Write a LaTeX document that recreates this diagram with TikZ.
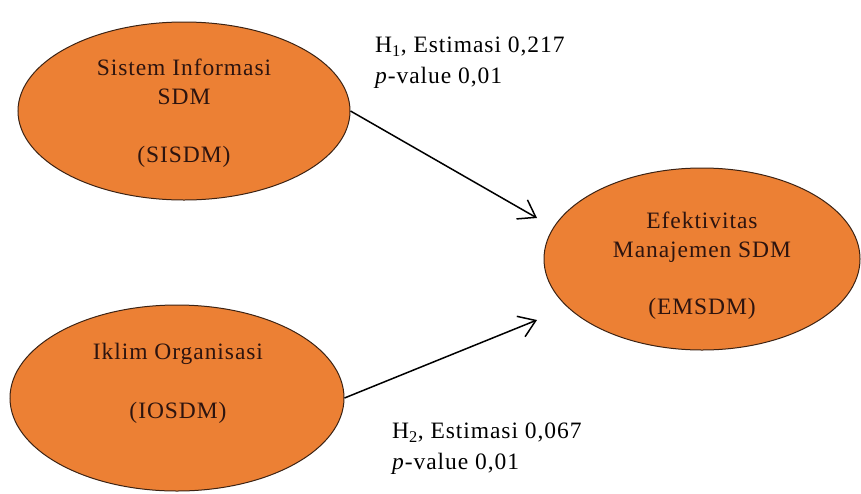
\documentclass[tikz,border=0pt]{standalone}
\usepackage{fontspec}
\setmainfont{Liberation Serif}[LetterSpace=4]
\usetikzlibrary{shapes.geometric,arrows.meta}
\definecolor{orfill}{RGB}{236,128,52}
\definecolor{ordraw}{RGB}{60,35,20}
\definecolor{intext}{RGB}{45,20,15}
\begin{document}
\begin{tikzpicture}[x=1pt,y=-1pt,
  latent/.style={ellipse,draw=ordraw,fill=orfill,line width=1pt,inner sep=0pt},
  intxt/.style={align=center,text=intext,inner sep=0pt,font=\fontsize{23.5}{29}\selectfont},
  lbl/.style={align=left,anchor=west,inner sep=0pt,font=\fontsize{23.5}{31}\selectfont},
  path/.style={-{Straight Barb[length=16pt,width=22pt,line width=1.5pt]},line width=1.5pt}]
\useasboundingbox (0,0) rectangle (861,493);
\node[latent,minimum width=332pt,minimum height=178pt] (e1) at (184,111) {};
\node[latent,minimum width=334pt,minimum height=186pt] (e2) at (177,398) {};
\node[latent,minimum width=316pt,minimum height=182pt] (e3) at (702,259) {};
\node[intxt] (t1) at (184,113) {Sistem Informasi\\SDM\\[29pt](SISDM)};
\node[intxt] (t2) at (178,383) {Iklim Organisasi\\[30pt](IOSDM)};
\node[intxt] (t3) at (702,266) {Efektivitas\\Manajemen SDM\\[28pt](EMSDM)};
\coordinate (a1) at (537,218);
\coordinate (a2) at (537,320);
\draw[path] (e1.east) -- (a1);
\draw[path] (e2.east) -- (a2);
\node[lbl] (h1) at (375,63) {H\textsubscript{1}, Estimasi 0,217\\\textit{p}-value 0,01};
\node[lbl] (h2) at (392,449) {H\textsubscript{2}, Estimasi 0,067\\\textit{p}-value 0,01};
\end{tikzpicture}
\end{document}
